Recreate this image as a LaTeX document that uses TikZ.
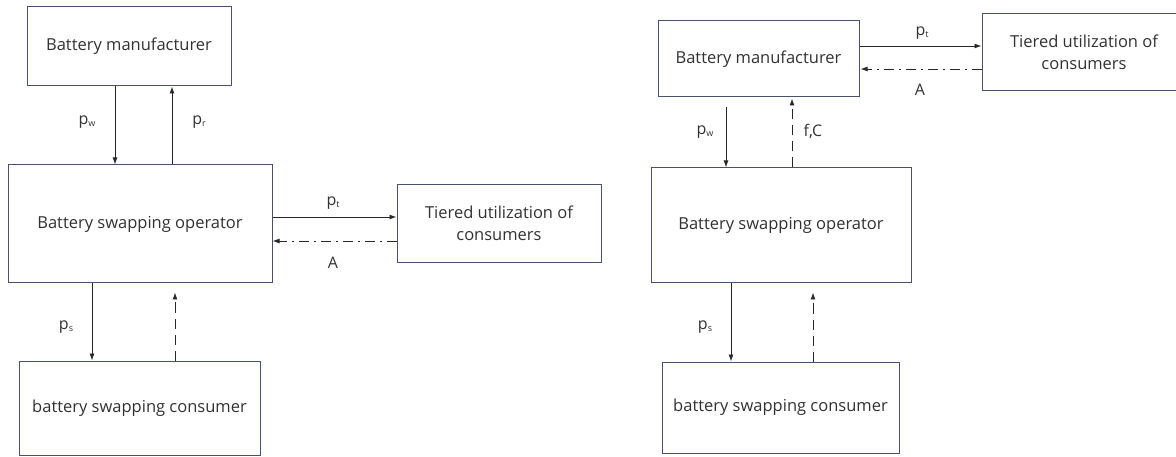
\documentclass[tikz,border=0pt]{standalone}
\usepackage{fontspec}
\setmainfont{Open Sans}
\usetikzlibrary{arrows.meta}
\definecolor{boxc}{RGB}{72,82,112}
\definecolor{txt}{RGB}{50,50,50}
\definecolor{arrc}{RGB}{40,40,40}
\newcommand{\psub}[1]{p\raisebox{-2pt}{\fontsize{9}{9}\selectfont #1}}
\begin{document}
\begin{tikzpicture}[x=1pt,y=-1pt,
  box/.style={draw=boxc, line width=1pt, fill=white, inner sep=0pt, text=txt,
    font=\fontsize{16.5}{22}\selectfont, align=center},
  arr/.style={draw=arrc, line width=0.9pt, -{Latex[length=7pt,width=5pt]}},
  dsh/.style={arr, dash pattern=on 10pt off 6pt},
  dshdot/.style={arr, dash pattern=on 10pt off 5pt on 2pt off 5pt},
  lbl/.style={text=txt, font=\fontsize{16}{19}\selectfont, inner sep=0pt}]
\useasboundingbox (0,0) rectangle (1176,457);
% ---------- left diagram ----------
\node[box, minimum width=204pt, minimum height=79pt] (m1) at (129,46.5) {Battery manufacturer};
\node[box, minimum width=264pt, minimum height=118pt] (o1) at (140,224) {Battery swapping operator};
\node[box, minimum width=204pt, minimum height=78pt] (t1) at (499,223.5) {Tiered utilization of\\consumers};
\node[box, minimum width=241pt, minimum height=94pt] (c1) at (139.5,408) {battery swapping consumer};
\coordinate (xa) at (115,0);
\coordinate (xb) at (172,0);
\coordinate (xc) at (92,0);
\coordinate (xd) at (175,0);
\coordinate (ya) at (0,217);
\coordinate (yb) at (0,241);
\draw[arr] (m1.south -| xa) -- (o1.north -| xa);
\draw[arr] (o1.north -| xb) -- (m1.south -| xb);
\draw[arr] (o1.east |- ya) -- (t1.west |- ya);
\draw[dshdot] (t1.west |- yb) -- (o1.east |- yb);
\draw[arr] (o1.south -| xc) -- (c1.north -| xc);
\draw[dsh, shorten >=9pt] (c1.north -| xd) -- (o1.south -| xd);
\node[lbl] (lpw1) at (87,122) {\psub{w}};
\node[lbl] (lpr1) at (199,122) {\psub{r}};
\node[lbl] (lpt1) at (333,203) {\psub{t}};
\node[lbl] (lA1) at (333,263) {A};
\node[lbl] (lps1) at (66,327) {\psub{s}};
% ---------- right diagram ----------
\node[box, minimum width=201pt, minimum height=76pt] (m2) at (758.5,59) {Battery manufacturer};
\node[box, minimum width=260pt, minimum height=115pt] (o2) at (781,225.5) {Battery swapping operator};
\node[box, minimum width=204pt, minimum height=77pt] (t2) at (1084,52.5) {Tiered utilization of\\consumers};
\node[box, minimum width=237pt, minimum height=91pt] (c2) at (780.5,407.5) {battery swapping consumer};
\coordinate (xe) at (726,0);
\coordinate (xf) at (792,0);
\coordinate (xg) at (731,0);
\coordinate (xh) at (813,0);
\coordinate (yc) at (0,46);
\coordinate (yd) at (0,69);
\draw[arr, shorten <=10pt] (m2.south -| xe) -- (o2.north -| xe);
\draw[dsh, shorten >=1pt] (o2.north -| xf) -- (m2.south -| xf);
\draw[arr] (m2.east |- yc) -- (t2.west |- yc);
\draw[dshdot, shorten >=1pt] (t2.west |- yd) -- (m2.east |- yd);
\draw[arr] (o2.south -| xg) -- (c2.north -| xg);
\draw[dsh, shorten >=9pt] (c2.north -| xh) -- (o2.south -| xh);
\node[lbl] (lpw2) at (705,132) {\psub{w}};
\node[lbl] (lfc2) at (813,131) {f,C};
\node[lbl] (lpt2) at (922,33) {\psub{t}};
\node[lbl] (lA2) at (920,90) {A};
\node[lbl] (lps2) at (705,327) {\psub{s}};
\end{tikzpicture}
\end{document}
